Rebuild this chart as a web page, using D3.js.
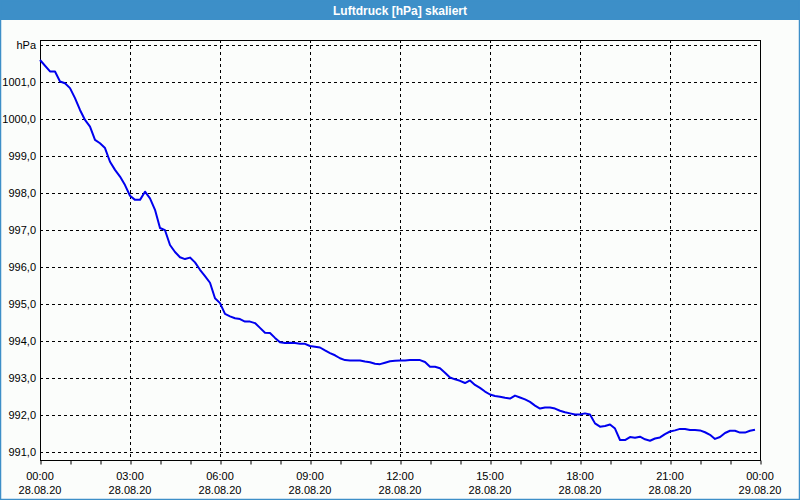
<!DOCTYPE html>
<html>
<head>
<meta charset="utf-8">
<script src="https://cdn.jsdelivr.net/npm/d3@7"></script>
<style>
  html, body { margin: 0; padding: 0; background: #fbfdfb; }
  svg { display: block; }
  text { font-family: "Liberation Sans", Arial, sans-serif; }
</style>
</head>
<body>
<svg id="chart" width="800" height="500"></svg>
<script>
// ---- data ----
const title = "Luftdruck [hPa] skaliert";
const unitLabel = "hPa";
// minutes after 28.08.20 00:00
const minutes = [
  0, 20, 30, 40, 50, 60, 70, 80, 90, 100, 110, 120, 130, 140, 150, 160, 170, 180, 190, 200,
  210, 220, 230, 240, 250, 260, 270, 280, 290, 300, 310, 320, 330, 340, 350, 360, 370, 380, 390, 400,
  410, 420, 430, 440, 450, 460, 470, 480, 490, 500, 510, 520, 530, 540, 550, 560, 570, 580, 590, 600,
  610, 620, 630, 640, 650, 660, 670, 680, 690, 700, 710, 720, 730, 740, 750, 760, 770, 780, 790, 800,
  810, 820, 830, 840, 850, 860, 870, 880, 890, 900, 910, 920, 930, 940, 950, 960, 970, 980, 990, 1000,
  1010, 1020, 1030, 1040, 1050, 1060, 1070, 1080, 1090, 1100, 1110, 1120, 1130, 1140, 1150, 1160, 1170, 1180, 1190, 1200,
  1210, 1220, 1230, 1240, 1250, 1260, 1270, 1280, 1290, 1300, 1310, 1320, 1330, 1340, 1350, 1360, 1370, 1380, 1390, 1400,
  1410, 1420, 1430
];
const pressure = [
  1001.60, 1001.29, 1001.29, 1001.02, 1000.97, 1000.84, 1000.57, 1000.25, 999.98, 999.80, 999.44, 999.35, 999.22, 998.85, 998.63, 998.45, 998.22, 997.93, 997.82, 997.82,
  998.04, 997.86, 997.55, 997.06, 997.00, 996.60, 996.41, 996.27, 996.22, 996.26, 996.13, 995.93, 995.76, 995.58, 995.16, 995.03, 994.74, 994.67, 994.62, 994.60,
  994.53, 994.53, 994.49, 994.36, 994.23, 994.22, 994.09, 993.97, 993.95, 993.96, 993.95, 993.93, 993.93, 993.87, 993.85, 993.83, 993.75, 993.68, 993.62, 993.54,
  993.49, 993.48, 993.48, 993.48, 993.45, 993.43, 993.39, 993.38, 993.42, 993.46, 993.47, 993.48, 993.48, 993.49, 993.49, 993.49, 993.44, 993.31, 993.31, 993.27,
  993.15, 993.02, 992.97, 992.93, 992.87, 992.94, 992.82, 992.74, 992.64, 992.56, 992.52, 992.50, 992.47, 992.45, 992.53, 992.48, 992.43, 992.36, 992.26, 992.18,
  992.21, 992.21, 992.18, 992.12, 992.08, 992.05, 992.02, 992.02, 992.05, 992.02, 991.78, 991.69, 991.71, 991.75, 991.64, 991.33, 991.33, 991.41, 991.39, 991.42,
  991.35, 991.31, 991.37, 991.40, 991.49, 991.56, 991.59, 991.63, 991.63, 991.60, 991.60, 991.59, 991.54, 991.47, 991.36, 991.41, 991.52, 991.58, 991.58, 991.53,
  991.53, 991.58, 991.61
];
const yTicks = [991, 992, 993, 994, 995, 996, 997, 998, 999, 1000, 1001, 1002];
const xTickHours = [0, 3, 6, 9, 12, 15, 18, 21, 24];
const xTickTimes = ["00:00", "03:00", "06:00", "09:00", "12:00", "15:00", "18:00", "21:00", "00:00"];
const xTickDates = ["28.08.20", "28.08.20", "28.08.20", "28.08.20", "28.08.20", "28.08.20", "28.08.20", "28.08.20", "29.08.20"];

// ---- layout ----
const W = 800, H = 500;
const plot = { left: 40, right: 760, top: 40, bottom: 460 };
const svg = d3.select("#chart");

const x = d3.scaleLinear().domain([0, 24 * 60]).range([plot.left, plot.right]);
const y = d3.scaleLinear().domain([990.79, 1002.14]).range([plot.bottom, plot.top]);

// background
svg.append("rect").attr("x", 0).attr("y", 0).attr("width", W).attr("height", H).attr("fill", "#fbfdfb");

// title bar + window border
svg.append("rect").attr("x", 0).attr("y", 0).attr("width", W).attr("height", 20).attr("fill", "#3d8fc8");
svg.append("rect").attr("x", 0.5).attr("y", 0.5).attr("width", W - 1).attr("height", H - 1)
  .attr("fill", "none").attr("stroke", "#3d8fc8").attr("stroke-width", 1.5);
svg.append("text").attr("x", W / 2).attr("y", 14.5).attr("text-anchor", "middle")
  .attr("fill", "#ffffff").attr("font-weight", "bold").attr("font-size", "12px").text(title);

const g = svg.append("g");

// horizontal grid
g.selectAll("line.hgrid").data(yTicks).enter().append("line")
  .attr("class", "hgrid")
  .attr("x1", plot.left).attr("x2", plot.right)
  .attr("y1", d => Math.round(y(d)) + 0.5).attr("y2", d => Math.round(y(d)) + 0.5)
  .attr("stroke", "#000").attr("stroke-width", 1).attr("stroke-dasharray", "3,3");

// vertical grid
g.selectAll("line.vgrid").data(xTickHours.slice(1, -1)).enter().append("line")
  .attr("class", "vgrid")
  .attr("x1", d => Math.round(x(d * 60)) + 0.5).attr("x2", d => Math.round(x(d * 60)) + 0.5)
  .attr("y1", plot.top).attr("y2", plot.bottom)
  .attr("stroke", "#000").attr("stroke-width", 1).attr("stroke-dasharray", "3,3");

// frame
g.append("rect").attr("x", plot.left + 0.5).attr("y", plot.top + 0.5)
  .attr("width", plot.right - plot.left).attr("height", plot.bottom - plot.top)
  .attr("fill", "none").attr("stroke", "#000").attr("stroke-width", 1);

// x axis ticks (hourly) using d3 axis
const xAxis = d3.axisBottom(x).tickValues(d3.range(0, 25).map(h => h * 60)).tickSize(4).tickFormat("");
const xa = g.append("g").attr("transform", `translate(0.5,${plot.bottom + 0.5})`).call(xAxis);
xa.select(".domain").remove();
xa.selectAll("line").attr("stroke", "#000");

// x labels
const xl = g.selectAll("g.xlab").data(xTickHours).enter().append("g").attr("class", "xlab")
  .attr("transform", d => `translate(${x(d * 60)},0)`);
xl.append("text").attr("y", 480).attr("text-anchor", "middle").attr("font-size", "11px").attr("fill", "#000")
  .text((d, i) => xTickTimes[i]);
xl.append("text").attr("y", 494).attr("text-anchor", "middle").attr("font-size", "11px").attr("fill", "#000")
  .text((d, i) => xTickDates[i]);

// y labels
g.selectAll("text.ylab").data(yTicks).enter().append("text").attr("class", "ylab")
  .attr("x", 36).attr("y", d => y(d) + 4).attr("text-anchor", "end")
  .attr("font-size", "11px").attr("fill", "#000")
  .text(d => d === 1002 ? unitLabel : d3.format(".1f")(d).replace(".", ","));

// line
const data = minutes.map((m, i) => ({ m, v: pressure[i] }));
const line = d3.line().x(d => x(d.m)).y(d => y(d.v));
g.append("path").datum(data).attr("d", line)
  .attr("fill", "none").attr("stroke", "#0000ee").attr("stroke-width", 2)
  .attr("stroke-linejoin", "round");
</script>
</body>
</html>
